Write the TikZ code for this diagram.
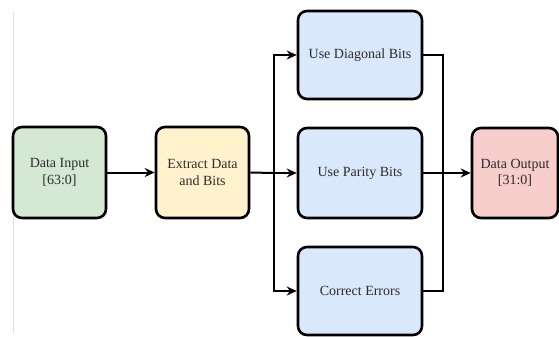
\documentclass[tikz,border=0pt]{standalone}
\usepackage{fontspec}
\setmainfont{Liberation Serif}
\usetikzlibrary{arrows.meta}
\definecolor{ingreen}{HTML}{D5E8D4}
\definecolor{exyellow}{HTML}{FFF2CC}
\definecolor{midblue}{HTML}{DAE8FC}
\definecolor{outred}{HTML}{F8CECC}
\definecolor{txt}{HTML}{2B2B2B}
\tikzset{
  box/.style={draw=black, line width=2.6pt, rounded corners=9pt, align=center,
    inner sep=0pt, font=\fontsize{14}{16.5}\selectfont, text=txt},
  conn/.style={line width=2pt, -{Stealth[length=10pt,width=9pt]}},
  plain/.style={line width=2pt},
}
\begin{document}
\begin{tikzpicture}[x=1pt,y=-1pt]
\useasboundingbox (0,0) rectangle (559,337);
\draw[black!12, line width=1pt] (13,12) -- (13,333);
\node[box, fill=ingreen, minimum width=93pt, minimum height=91pt] (in) at (59.5,172.5) {Data Input\\{}[63:0]};
\node[box, fill=exyellow, minimum width=93pt, minimum height=91pt] (ex) at (202.5,172.5) {Extract Data\\and Bits};
\node[box, fill=midblue, minimum width=124pt, minimum height=88pt] (diag) at (360,55) {Use Diagonal Bits};
\node[box, fill=midblue, minimum width=124pt, minimum height=90pt] (par) at (360,173) {Use Parity Bits};
\node[box, fill=midblue, minimum width=124pt, minimum height=88pt] (cor) at (360,291) {Correct Errors};
\node[box, fill=outred, minimum width=86pt, minimum height=90pt] (out) at (515,173) {Data Output\\{}[31:0]};
\coordinate (split) at (274,173);
\coordinate (merge) at (443,173);
\draw[conn] (in) -- (ex);
\draw[plain] (ex.east) -- (split);
\draw[conn] (split) |- (diag.west);
\draw[conn] (split) -- (par.west);
\draw[conn] (split) |- (cor.west);
\draw[plain] (diag.east) -| (merge);
\draw[plain] (cor.east) -| (merge);
\draw[conn] (par.east) -- (out.west);
\end{tikzpicture}
\end{document}
